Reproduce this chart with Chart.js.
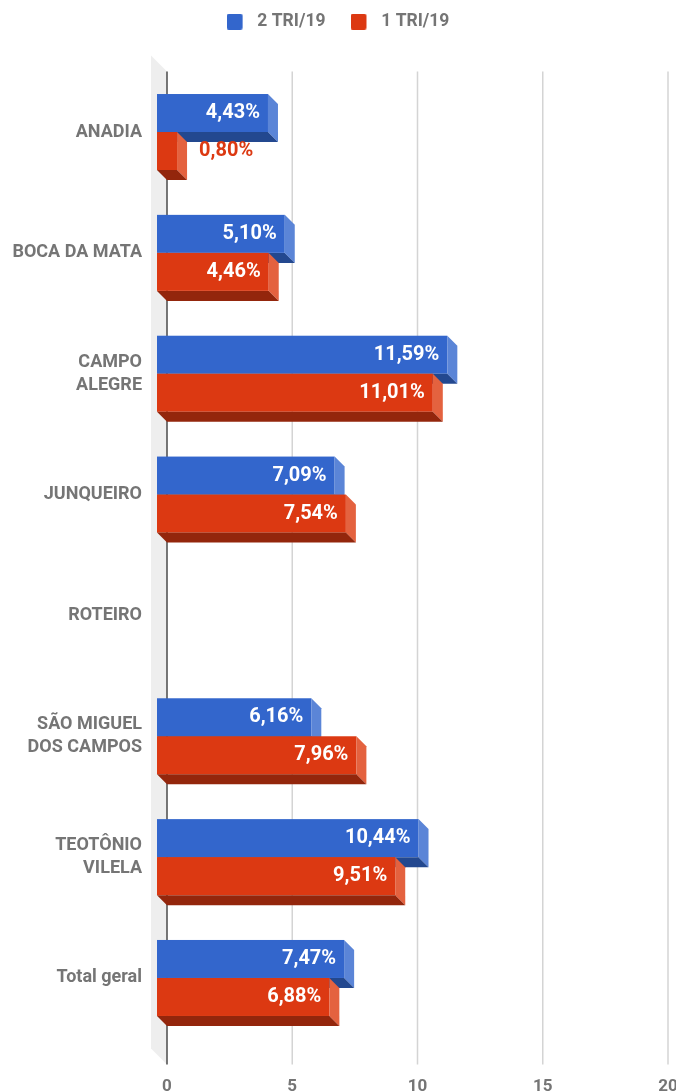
<!DOCTYPE html>
<html lang="pt-BR">
<head>
<meta charset="utf-8">
<title>2 TRI/19 x 1 TRI/19</title>
<script src="https://cdn.jsdelivr.net/npm/chart.js@4.4.1/dist/chart.umd.min.js"></script>
<style>
  html, body { margin: 0; padding: 0; background: #ffffff; }
  #grafico { display: block; }
</style>
</head>
<body>
<canvas id="grafico" width="676" height="1092"></canvas>
<script>
// Municípios e taxas por trimestre (%)
const municipios = [
    'ANADIA', 'BOCA DA MATA', ['CAMPO', 'ALEGRE'], 'JUNQUEIRO', 'ROTEIRO',
    ['SÃO MIGUEL', 'DOS CAMPOS'], ['TEOTÔNIO', 'VILELA'], 'Total geral'
];
const tri2 = [4.43, 5.10, 11.59, 7.09, null, 6.16, 10.44, 7.47];
const tri1 = [0.80, 4.46, 11.01, 7.54, null, 7.96, 9.51, 6.88];
const nomesSeries = ['2 TRI/19', '1 TRI/19'];
const ticksX = [0, 5, 10, 15, 20];

// Cores das faces (frente, lateral, base)
const cores = [
    { frente: '#3366cc', lado: '#5b85d7', base: '#23488f' },
    { frente: '#dc3912', lado: '#e4623f', base: '#93260c' }
];

const PROF = 10;        // profundidade das barras
const PAREDE = 16;      // profundidade da parede lateral
const EXTRA_BAIXO = 26; // grade continua abaixo da área
const CINZA = '#757575';

Chart.defaults.font.family = 'Roboto';

function quadradoLegenda(cor) {
    const c = document.createElement('canvas');
    c.width = 22;
    c.height = 16;
    const g = c.getContext('2d');
    g.fillStyle = cor;
    g.beginPath();
    g.roundRect(0, 0, 16, 16, 2);
    g.fill();
    return c;
}

function formatar(v) {
    return v.toFixed(2).replace('.', ',') + '%';
}

// Desenha parede, grade, barras 3D e rótulos
const barras3d = {
    id: 'barras3d',
    beforeLayout(chart) {
        const lg = chart.legend;
        if (lg && !lg._alturaFixa) {
            const fitOriginal = lg.fit;
            lg.fit = function() {
                fitOriginal.call(this);
                this.height = 83.6;
            };
            lg._alturaFixa = true;
        }
    },
    beforeDatasetsDraw(chart) {
        const ctx = chart.ctx;
        const area = chart.chartArea;
        const escalaX = chart.scales.x;
        const yFundo = area.bottom + EXTRA_BAIXO;

        ctx.save();

        // parede à esquerda
        ctx.fillStyle = '#eeeeee';
        ctx.beginPath();
        ctx.moveTo(area.left - PAREDE, area.top - PAREDE);
        ctx.lineTo(area.left, area.top);
        ctx.lineTo(area.left, yFundo);
        ctx.lineTo(area.left - PAREDE, yFundo - PAREDE);
        ctx.closePath();
        ctx.fill();

        // linhas de grade
        escalaX.ticks.forEach(t => {
            const px = escalaX.getPixelForValue(t.value);
            ctx.strokeStyle = t.value === 0 ? '#4a4a4a' : '#d4d4d4';
            ctx.lineWidth = 1.5;
            ctx.beginPath();
            ctx.moveTo(px, area.top);
            ctx.lineTo(px, yFundo);
            ctx.stroke();
        });

        // barras
        chart.data.datasets.forEach((ds, i) => {
            const meta = chart.getDatasetMeta(i);
            const cor = cores[i];
            meta.data.forEach((bar, j) => {
                if (ds.data[j] == null) return;
                const topo = bar.y - bar.height / 2;
                const baixo = bar.y + bar.height / 2;
                const x0 = bar.base - PROF;
                const x1 = bar.x - PROF;

                ctx.fillStyle = cor.frente;
                ctx.fillRect(x0, topo, x1 - x0, baixo - topo);

                ctx.fillStyle = cor.lado;
                ctx.beginPath();
                ctx.moveTo(x1, topo);
                ctx.lineTo(x1 + PROF, topo + PROF);
                ctx.lineTo(x1 + PROF, baixo + PROF);
                ctx.lineTo(x1, baixo);
                ctx.closePath();
                ctx.fill();

                ctx.fillStyle = cor.base;
                ctx.beginPath();
                ctx.moveTo(x0, baixo);
                ctx.lineTo(x1, baixo);
                ctx.lineTo(x1 + PROF, baixo + PROF);
                ctx.lineTo(x0 + PROF, baixo + PROF);
                ctx.closePath();
                ctx.fill();
            });
        });

        // rótulos de valor
        ctx.font = 'bold 20px Roboto';
        ctx.textBaseline = 'middle';
        chart.data.datasets.forEach((ds, i) => {
            const meta = chart.getDatasetMeta(i);
            meta.data.forEach((bar, j) => {
                const v = ds.data[j];
                if (v == null) return;
                const texto = formatar(v);
                const largura = ctx.measureText(texto).width;
                const x0 = bar.base - PROF;
                const x1 = bar.x - PROF;
                if (x1 - x0 > largura + 16) {
                    ctx.fillStyle = '#ffffff';
                    ctx.textAlign = 'right';
                    ctx.fillText(texto, x1 - 8, bar.y);
                } else {
                    ctx.fillStyle = cores[i].frente;
                    ctx.textAlign = 'left';
                    ctx.fillText(texto, bar.x + 12, bar.y);
                }
            });
        });

        ctx.restore();
        return false;
    }
};

new Chart(document.getElementById('grafico'), {
    type: 'bar',
    data: {
        labels: municipios,
        datasets: [
            { label: nomesSeries[0], data: tri2, backgroundColor: cores[0].frente },
            { label: nomesSeries[1], data: tri1, backgroundColor: cores[1].frente }
        ]
    },
    options: {
        indexAxis: 'y',
        responsive: false,
        animation: false,
        events: [],
        categoryPercentage: 0.629,
        barPercentage: 1,
        layout: { padding: { top: -12, right: 0, bottom: 0, left: 0 } },
        plugins: {
            tooltip: { enabled: false },
            legend: {
                position: 'top',
                labels: {
                    usePointStyle: true,
                    pointStyleWidth: 22,
                    boxHeight: 16,
                    padding: 25,
                    color: CINZA,
                    font: { size: 17.5, weight: 'bold' },
                    generateLabels(chart) {
                        const itens = Chart.defaults.plugins.legend.labels.generateLabels(chart);
                        itens.forEach((it, i) => { it.pointStyle = quadradoLegenda(cores[i].frente); });
                        return itens;
                    }
                }
            }
        },
        scales: {
            x: {
                min: 0,
                max: 20,
                afterBuildTicks(scale) { scale.ticks = ticksX.map(v => ({ value: v })); },
                afterFit(scale) {
                    scale.height = 53.6;
                    scale.paddingLeft = 0;
                    scale.paddingRight = 8;
                },
                grid: { display: false, drawTicks: false },
                border: { display: false },
                ticks: { padding: 38, color: CINZA, font: { size: 17, weight: 'bold' } }
            },
            y: {
                afterFit(scale) { scale.width = 167; },
                grid: { display: false, drawTicks: false },
                border: { display: false },
                ticks: { padding: 25, color: CINZA, font: { size: 18, weight: 'bold', lineHeight: 1.3 } }
            }
        }
    },
    plugins: [barras3d]
});
</script>
</body>
</html>
